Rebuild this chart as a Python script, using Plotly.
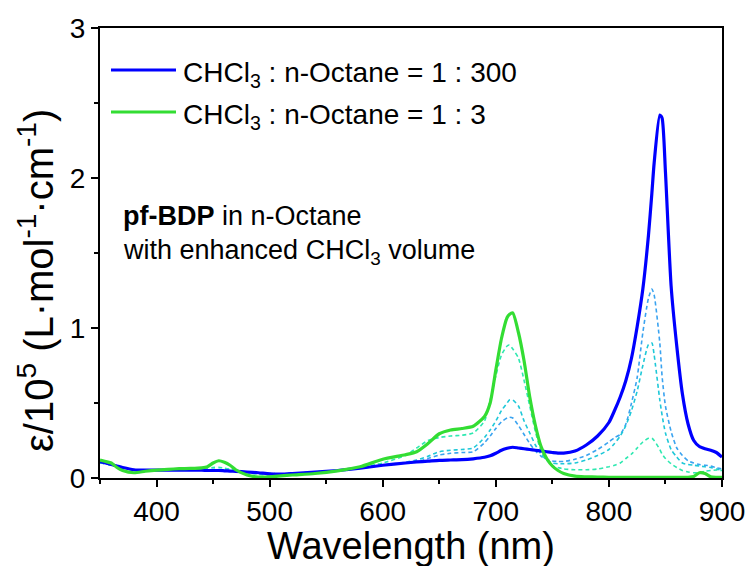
import plotly.graph_objects as go

wavelength = [350, 355, 360, 365, 370, 380, 390, 400, 410, 420, 430, 440, 445, 450, 455, 460, 465, 470,
              480, 490, 500, 510, 520, 540, 560, 580, 600, 620, 630, 640, 650, 660, 670, 680, 690, 695,
              700, 705, 710, 712, 715, 720, 725, 730, 735, 740, 745, 750, 755, 760, 770, 780, 790, 800,
              805, 810, 815, 820, 825, 830, 835, 838, 840, 845, 847, 850, 855, 860, 865, 870, 875, 880,
              885, 890, 895, 900]

ratio_1_300 = [0.11, 0.10, 0.09, 0.08, 0.07, 0.055, 0.052, 0.052, 0.052, 0.053, 0.053, 0.052, 0.05, 0.05,
               0.05, 0.048, 0.046, 0.044, 0.04, 0.035, 0.028, 0.026, 0.03, 0.04, 0.05, 0.065, 0.085, 0.1,
               0.107, 0.112, 0.118, 0.12, 0.122, 0.128, 0.138, 0.148, 0.165, 0.185, 0.198, 0.202, 0.205,
               0.2, 0.195, 0.19, 0.185, 0.18, 0.175, 0.17, 0.166, 0.166, 0.18, 0.22, 0.28, 0.37,
               0.45, 0.54, 0.65, 0.80, 1.01, 1.26, 1.62, 1.90, 2.10, 2.42, 2.40, 2.04, 1.28, 0.88, 0.56,
               0.36, 0.25, 0.21, 0.195, 0.185, 0.17, 0.14]

ratio_1_3 = [0.12, 0.11, 0.10, 0.07, 0.05, 0.035, 0.045, 0.053, 0.058, 0.062, 0.064, 0.068, 0.075, 0.10,
             0.115, 0.105, 0.085, 0.055, 0.02, 0.006, 0.008, 0.014, 0.02, 0.03, 0.048, 0.075, 0.125, 0.155,
             0.175, 0.23, 0.295, 0.32, 0.33, 0.345, 0.41, 0.50, 0.72, 0.93, 1.07, 1.09, 1.10, 0.97, 0.78,
             0.54, 0.35, 0.21, 0.13, 0.08, 0.05, 0.03, 0.012, 0.008, 0.006, 0.005,
             0.005, 0.005, 0.005, 0.005, 0.005, 0.005, 0.005, 0.005, 0.005, 0.005, 0.005, 0.005, 0.005,
             0.005, 0.005, 0.005, 0.01, 0.035, 0.03, 0.008, 0.005, 0.005]

dashed_a = [0.10, 0.095, 0.085, 0.075, 0.065, 0.055, 0.052, 0.052, 0.053, 0.054, 0.055, 0.055, 0.055, 0.056,
            0.056, 0.054, 0.05, 0.046, 0.04, 0.035, 0.03, 0.028, 0.03, 0.04, 0.05, 0.065, 0.085, 0.10,
            0.108, 0.13, 0.153, 0.165, 0.17, 0.175, 0.235, 0.28, 0.33, 0.375, 0.40, 0.405, 0.40, 0.35, 0.29,
            0.23, 0.18, 0.145, 0.125, 0.113, 0.11, 0.11, 0.125, 0.15, 0.19, 0.24,
            0.27, 0.29, 0.36, 0.50, 0.67, 0.97, 1.20, 1.26, 1.22, 0.90, 0.68, 0.48, 0.31, 0.20, 0.15,
            0.115, 0.10, 0.09, 0.085, 0.08, 0.068, 0.06]

dashed_b = [0.10, 0.095, 0.085, 0.075, 0.065, 0.055, 0.052, 0.052, 0.053, 0.054, 0.055, 0.055, 0.055, 0.056,
            0.056, 0.054, 0.05, 0.046, 0.04, 0.035, 0.03, 0.028, 0.03, 0.04, 0.05, 0.065, 0.085, 0.105,
            0.12, 0.145, 0.175, 0.185, 0.19, 0.20, 0.27, 0.32, 0.38, 0.45, 0.50, 0.52, 0.52, 0.48, 0.38,
            0.30, 0.22, 0.16, 0.12, 0.10, 0.095, 0.095, 0.10, 0.12, 0.15, 0.19,
            0.23, 0.28, 0.35, 0.45, 0.58, 0.75, 0.89, 0.90, 0.82, 0.52, 0.42, 0.30, 0.19, 0.14, 0.10,
            0.09, 0.085, 0.08, 0.075, 0.07, 0.06, 0.05]

dashed_c = [0.10, 0.095, 0.085, 0.075, 0.065, 0.055, 0.052, 0.055, 0.058, 0.06, 0.062, 0.064, 0.066, 0.07,
            0.072, 0.066, 0.058, 0.05, 0.035, 0.025, 0.02, 0.02, 0.025, 0.035, 0.048, 0.07, 0.10, 0.15,
            0.20, 0.25, 0.27, 0.28, 0.285, 0.30, 0.38, 0.52, 0.68, 0.82, 0.88, 0.887, 0.86, 0.80, 0.65,
            0.48, 0.31, 0.18, 0.12, 0.08, 0.07, 0.06, 0.055, 0.055, 0.06, 0.075,
            0.085, 0.10, 0.13, 0.16, 0.20, 0.24, 0.265, 0.265, 0.25, 0.19, 0.16, 0.13, 0.095, 0.07, 0.05,
            0.04, 0.035, 0.035, 0.045, 0.05, 0.053, 0.05]

x_ticks = [400, 500, 600, 700, 800, 900]
y_ticks = [0, 1, 2, 3]

FONT = "Arial, 'Liberation Sans', sans-serif"

fig = go.Figure()
for vals, col in [(dashed_a, "#3aa3f0"), (dashed_b, "#1ec8d8"), (dashed_c, "#2ee8b0")]:
    fig.add_trace(go.Scatter(x=wavelength, y=vals, mode="lines",
                             line=dict(color=col, width=1.6, dash="4px,3px", shape="spline", smoothing=0.6),
                             showlegend=False, hoverinfo="skip"))
fig.add_trace(go.Scatter(x=wavelength, y=ratio_1_300, mode="lines",
                         line=dict(color="#0000ff", width=3.2, shape="spline", smoothing=0.6),
                         showlegend=False))
fig.add_trace(go.Scatter(x=wavelength, y=ratio_1_3, mode="lines",
                         line=dict(color="#33dd33", width=3.2, shape="spline", smoothing=0.6),
                         showlegend=False))

L, R, T, B = 100, 26, 28, 88
W, H = 748, 566
pw, ph = W - L - R, H - T - B

def px(x):
    return (x - L) / pw

def py(y):
    return (H - B - y) / ph

axis_common = dict(showline=True, linecolor="black", linewidth=2, mirror=True,
                   ticks="outside", ticklen=7, tickwidth=1.5, tickcolor="black",
                   showgrid=False, zeroline=False, automargin=False,
                   tickfont=dict(family=FONT, size=28, color="black"))

fig.update_xaxes(range=[350, 900], tickvals=x_ticks, ticktext=[str(v) for v in x_ticks],
                 minor=dict(tickvals=[350, 450, 550, 650, 750, 850], ticklen=4, tickwidth=1.5,
                            tickcolor="black", ticks="outside"),
                 **axis_common)
fig.update_yaxes(range=[0, 3], tickvals=y_ticks, ticktext=[str(v) for v in y_ticks],
                 minor=dict(tickvals=[0.5, 1.5, 2.5], ticklen=4, tickwidth=1.5,
                            tickcolor="black", ticks="outside"),
                 **axis_common)

shapes = [
    dict(type="line", xref="paper", yref="paper", x0=px(111), x1=px(176), y0=py(70), y1=py(70),
         line=dict(color="#0000ff", width=3)),
    dict(type="line", xref="paper", yref="paper", x0=px(111), x1=px(176), y0=py(112), y1=py(112),
         line=dict(color="#33dd33", width=3)),
]

ann = [
    dict(text="CHCl<sub>3</sub> : n-Octane = 1 : 300", x=px(181), y=py(74), xanchor="left", yanchor="middle",
         font=dict(size=28)),
    dict(text="CHCl<sub>3</sub> : n-Octane = 1 : 3", x=px(181), y=py(116), xanchor="left", yanchor="middle",
         font=dict(size=28)),
    dict(text="<b>pf-BDP</b> in n-Octane", x=px(121), y=py(216), xanchor="left", yanchor="middle",
         font=dict(size=27)),
    dict(text="with enhanced CHCl<sub>3</sub> volume", x=px(121), y=py(252), xanchor="left", yanchor="middle",
         font=dict(size=27)),
    dict(text="Wavelength (nm)", x=px(411), y=py(546), xanchor="center", yanchor="middle",
         font=dict(size=38)),
    dict(text="ε/10<sup>5</sup> (L·mol<sup>-1</sup>·cm<sup>-1</sup>)", x=px(36), y=py(281),
         xanchor="center", yanchor="middle", textangle=-90, font=dict(size=40)),
]
for a in ann:
    a.update(xref="paper", yref="paper", showarrow=False)
    a["font"].update(family=FONT, color="black")

fig.update_layout(width=W, height=H, margin=dict(l=L, r=R, t=T, b=B, autoexpand=False),
                  paper_bgcolor="white", plot_bgcolor="white",
                  shapes=shapes, annotations=ann, showlegend=False)

fig.write_html("out.html")
